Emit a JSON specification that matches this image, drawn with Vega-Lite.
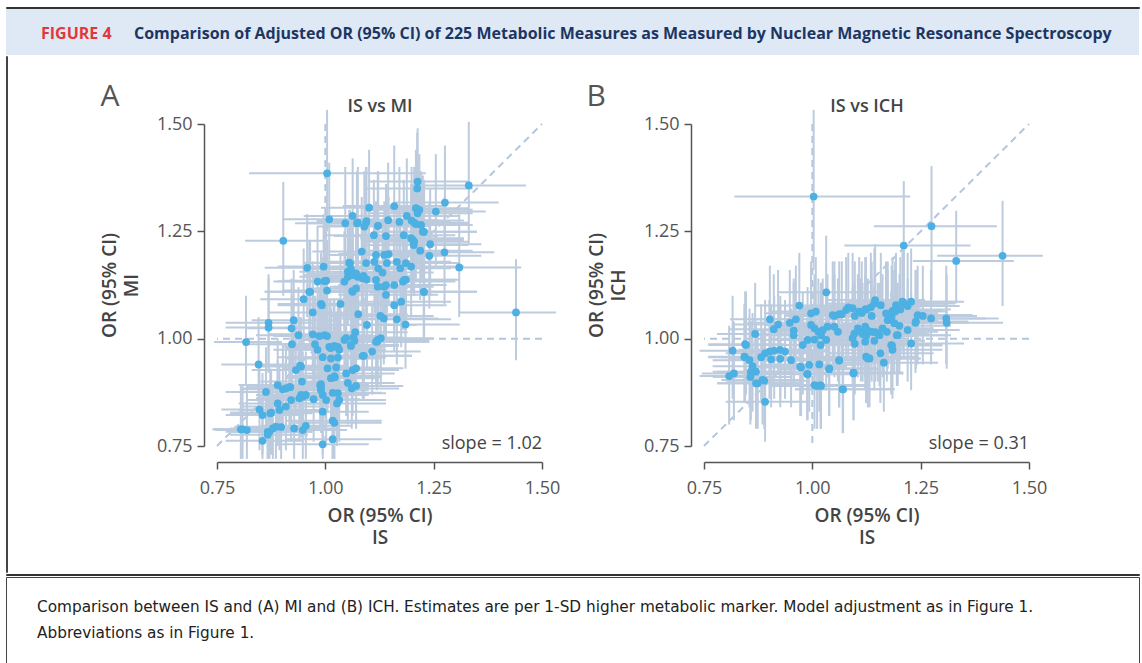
{
"$schema": "https://vega.github.io/schema/vega-lite/v6.json",
"padding": {"left": 5, "top": 6, "right": 0, "bottom": 0},
"background": "white",
"config": {
  "font": "Open Sans",
  "view": {"stroke": null},
  "axis": {"grid": false, "labelFlush": false, "domainColor": "#555", "tickColor": "#555", "domainWidth": 1.5, "tickWidth": 1.5, "tickSize": 7, "labelFontSize": 18, "labelColor": "#555", "titleFontSize": 19, "titleFontWeight": 600, "titleColor": "#444", "titleLineHeight": 22},
  "title": {"fontSize": 17, "fontWeight": 600, "color": "#444"}
},
"datasets": {
"a": [
{"x":1.004,"xl":0.824,"xh":1.232,"y":1.385,"yl":1.25,"yh":1.533},
{"x":1.331,"xl":1.2,"xh":1.463,"y":1.357,"yl":1.22,"yh":1.505},
{"x":1.276,"xl":1.16,"xh":1.4,"y":1.317,"yl":1.19,"yh":1.45},
{"x":1.255,"xl":1.15,"xh":1.37,"y":1.296,"yl":1.17,"yh":1.43},
{"x":1.213,"xl":1.1,"xh":1.33,"y":1.366,"yl":1.24,"yh":1.49},
{"x":1.212,"xl":1.09,"xh":1.34,"y":1.35,"yl":1.22,"yh":1.48},
{"x":1.159,"xl":1.04,"xh":1.28,"y":1.309,"yl":1.18,"yh":1.45},
{"x":1.101,"xl":0.99,"xh":1.22,"y":1.305,"yl":1.17,"yh":1.44},
{"x":1.063,"xl":0.95,"xh":1.18,"y":1.286,"yl":1.16,"yh":1.42},
{"x":1.009,"xl":0.9,"xh":1.12,"y":1.278,"yl":1.15,"yh":1.41},
{"x":1.046,"xl":0.93,"xh":1.17,"y":1.269,"yl":1.14,"yh":1.4},
{"x":1.073,"xl":0.96,"xh":1.19,"y":1.269,"yl":1.15,"yh":1.39},
{"x":1.094,"xl":0.98,"xh":1.21,"y":1.27,"yl":1.15,"yh":1.4},
{"x":1.121,"xl":1.01,"xh":1.24,"y":1.263,"yl":1.14,"yh":1.39},
{"x":1.145,"xl":1.03,"xh":1.26,"y":1.276,"yl":1.15,"yh":1.41},
{"x":1.171,"xl":1.06,"xh":1.29,"y":1.272,"yl":1.15,"yh":1.4},
{"x":1.188,"xl":1.07,"xh":1.31,"y":1.286,"yl":1.16,"yh":1.42},
{"x":1.205,"xl":1.09,"xh":1.33,"y":1.27,"yl":1.15,"yh":1.4},
{"x":1.221,"xl":1.11,"xh":1.34,"y":1.265,"yl":1.14,"yh":1.39},
{"x":1.217,"xl":1.1,"xh":1.34,"y":1.3,"yl":1.17,"yh":1.43},
{"x":1.228,"xl":1.12,"xh":1.35,"y":1.249,"yl":1.13,"yh":1.37},
{"x":0.903,"xl":0.815,"xh":1.0,"y":1.228,"yl":1.1,"yh":1.365},
{"x":1.112,"xl":1.0,"xh":1.23,"y":1.241,"yl":1.12,"yh":1.37},
{"x":1.14,"xl":1.02,"xh":1.26,"y":1.239,"yl":1.12,"yh":1.36},
{"x":1.181,"xl":1.07,"xh":1.3,"y":1.241,"yl":1.12,"yh":1.37},
{"x":1.202,"xl":1.09,"xh":1.32,"y":1.23,"yl":1.11,"yh":1.36},
{"x":1.204,"xl":1.09,"xh":1.33,"y":1.218,"yl":1.1,"yh":1.35},
{"x":1.242,"xl":1.13,"xh":1.36,"y":1.22,"yl":1.1,"yh":1.35},
{"x":1.275,"xl":1.16,"xh":1.39,"y":1.201,"yl":1.08,"yh":1.33},
{"x":1.24,"xl":1.13,"xh":1.36,"y":1.193,"yl":1.07,"yh":1.32},
{"x":1.219,"xl":1.1,"xh":1.34,"y":1.205,"yl":1.09,"yh":1.33},
{"x":1.309,"xl":1.19,"xh":1.452,"y":1.166,"yl":1.05,"yh":1.29},
{"x":1.084,"xl":0.97,"xh":1.2,"y":1.203,"yl":1.08,"yh":1.33},
{"x":1.117,"xl":1.0,"xh":1.24,"y":1.195,"yl":1.08,"yh":1.32},
{"x":1.136,"xl":1.02,"xh":1.26,"y":1.195,"yl":1.07,"yh":1.32},
{"x":1.146,"xl":1.03,"xh":1.27,"y":1.197,"yl":1.08,"yh":1.33},
{"x":1.055,"xl":0.95,"xh":1.17,"y":1.177,"yl":1.06,"yh":1.3},
{"x":1.094,"xl":0.98,"xh":1.21,"y":1.176,"yl":1.06,"yh":1.3},
{"x":1.113,"xl":1.0,"xh":1.23,"y":1.179,"yl":1.06,"yh":1.31},
{"x":1.122,"xl":1.01,"xh":1.24,"y":1.164,"yl":1.05,"yh":1.29},
{"x":1.132,"xl":1.02,"xh":1.25,"y":1.154,"yl":1.04,"yh":1.28},
{"x":1.142,"xl":1.03,"xh":1.26,"y":1.176,"yl":1.06,"yh":1.3},
{"x":1.165,"xl":1.05,"xh":1.29,"y":1.179,"yl":1.06,"yh":1.31},
{"x":1.173,"xl":1.06,"xh":1.29,"y":1.164,"yl":1.05,"yh":1.29},
{"x":1.186,"xl":1.07,"xh":1.31,"y":1.176,"yl":1.06,"yh":1.3},
{"x":1.198,"xl":1.08,"xh":1.32,"y":1.168,"yl":1.05,"yh":1.29},
{"x":0.958,"xl":0.86,"xh":1.06,"y":1.165,"yl":1.05,"yh":1.29},
{"x":0.996,"xl":0.89,"xh":1.11,"y":1.168,"yl":1.05,"yh":1.29},
{"x":1.052,"xl":0.94,"xh":1.17,"y":1.156,"yl":1.04,"yh":1.28},
{"x":1.071,"xl":0.96,"xh":1.19,"y":1.152,"yl":1.04,"yh":1.27},
{"x":1.086,"xl":0.97,"xh":1.2,"y":1.141,"yl":1.03,"yh":1.26},
{"x":1.052,"xl":0.94,"xh":1.17,"y":1.144,"yl":1.03,"yh":1.27},
{"x":0.982,"xl":0.88,"xh":1.09,"y":1.133,"yl":1.02,"yh":1.26},
{"x":1.002,"xl":0.9,"xh":1.11,"y":1.135,"yl":1.02,"yh":1.26},
{"x":1.044,"xl":0.94,"xh":1.16,"y":1.133,"yl":1.02,"yh":1.25},
{"x":1.117,"xl":1.0,"xh":1.24,"y":1.137,"yl":1.02,"yh":1.26},
{"x":1.121,"xl":1.01,"xh":1.24,"y":1.121,"yl":1.01,"yh":1.24},
{"x":1.14,"xl":1.03,"xh":1.26,"y":1.125,"yl":1.01,"yh":1.25},
{"x":1.14,"xl":1.03,"xh":1.26,"y":1.102,"yl":0.99,"yh":1.22},
{"x":1.159,"xl":1.05,"xh":1.28,"y":1.125,"yl":1.01,"yh":1.25},
{"x":1.179,"xl":1.07,"xh":1.3,"y":1.133,"yl":1.02,"yh":1.25},
{"x":1.186,"xl":1.07,"xh":1.31,"y":1.137,"yl":1.02,"yh":1.26},
{"x":0.963,"xl":0.86,"xh":1.07,"y":1.109,"yl":1.0,"yh":1.23},
{"x":1.004,"xl":0.9,"xh":1.11,"y":1.112,"yl":1.0,"yh":1.23},
{"x":1.062,"xl":0.95,"xh":1.18,"y":1.111,"yl":1.0,"yh":1.23},
{"x":1.227,"xl":1.11,"xh":1.35,"y":1.109,"yl":0.99,"yh":1.23},
{"x":0.95,"xl":0.85,"xh":1.05,"y":1.092,"yl":0.98,"yh":1.21},
{"x":0.992,"xl":0.89,"xh":1.1,"y":1.078,"yl":0.97,"yh":1.19},
{"x":1.035,"xl":0.93,"xh":1.15,"y":1.081,"yl":0.97,"yh":1.2},
{"x":1.159,"xl":1.05,"xh":1.28,"y":1.078,"yl":0.97,"yh":1.19},
{"x":1.175,"xl":1.06,"xh":1.29,"y":1.086,"yl":0.98,"yh":1.2},
{"x":0.971,"xl":0.87,"xh":1.08,"y":1.061,"yl":0.95,"yh":1.18},
{"x":1.076,"xl":0.97,"xh":1.19,"y":1.057,"yl":0.95,"yh":1.17},
{"x":1.127,"xl":1.01,"xh":1.25,"y":1.053,"yl":0.95,"yh":1.17},
{"x":1.135,"xl":1.02,"xh":1.26,"y":1.047,"yl":0.94,"yh":1.16},
{"x":1.165,"xl":1.05,"xh":1.29,"y":1.045,"yl":0.94,"yh":1.16},
{"x":1.44,"xl":1.308,"xh":1.532,"y":1.061,"yl":0.95,"yh":1.185},
{"x":0.869,"xl":0.77,"xh":0.97,"y":1.037,"yl":0.93,"yh":1.15},
{"x":0.869,"xl":0.77,"xh":0.97,"y":1.026,"yl":0.92,"yh":1.14},
{"x":0.927,"xl":0.83,"xh":1.03,"y":1.043,"yl":0.94,"yh":1.16},
{"x":0.922,"xl":0.82,"xh":1.03,"y":1.024,"yl":0.92,"yh":1.14},
{"x":1.096,"xl":0.99,"xh":1.21,"y":1.032,"yl":0.93,"yh":1.15},
{"x":1.185,"xl":1.07,"xh":1.31,"y":1.033,"yl":0.93,"yh":1.15},
{"x":0.986,"xl":0.88,"xh":1.1,"y":1.006,"yl":0.9,"yh":1.12},
{"x":0.998,"xl":0.89,"xh":1.11,"y":1.008,"yl":0.9,"yh":1.12},
{"x":1.004,"xl":0.9,"xh":1.12,"y":1.006,"yl":0.9,"yh":1.12},
{"x":0.938,"xl":0.84,"xh":1.04,"y":1.008,"yl":0.9,"yh":1.12},
{"x":1.069,"xl":0.96,"xh":1.19,"y":1.015,"yl":0.91,"yh":1.13},
{"x":1.065,"xl":0.96,"xh":1.18,"y":1.003,"yl":0.9,"yh":1.12},
{"x":1.044,"xl":0.94,"xh":1.16,"y":0.997,"yl":0.89,"yh":1.11},
{"x":0.817,"xl":0.743,"xh":0.9,"y":0.992,"yl":0.89,"yh":1.1},
{"x":0.923,"xl":0.82,"xh":1.03,"y":0.987,"yl":0.88,"yh":1.1},
{"x":0.976,"xl":0.87,"xh":1.09,"y":0.987,"yl":0.88,"yh":1.1},
{"x":0.982,"xl":0.88,"xh":1.09,"y":0.974,"yl":0.87,"yh":1.09},
{"x":1.009,"xl":0.9,"xh":1.12,"y":0.981,"yl":0.88,"yh":1.09},
{"x":1.019,"xl":0.91,"xh":1.13,"y":0.981,"yl":0.88,"yh":1.09},
{"x":1.029,"xl":0.92,"xh":1.14,"y":0.981,"yl":0.88,"yh":1.09},
{"x":1.059,"xl":0.95,"xh":1.17,"y":0.983,"yl":0.88,"yh":1.1},
{"x":1.121,"xl":1.01,"xh":1.24,"y":0.997,"yl":0.89,"yh":1.11},
{"x":1.128,"xl":1.02,"xh":1.25,"y":1.001,"yl":0.89,"yh":1.12},
{"x":1.108,"xl":1.0,"xh":1.22,"y":0.97,"yl":0.87,"yh":1.08},
{"x":1.089,"xl":0.98,"xh":1.2,"y":0.96,"yl":0.86,"yh":1.07},
{"x":0.846,"xl":0.76,"xh":0.94,"y":0.94,"yl":0.84,"yh":1.05},
{"x":0.994,"xl":0.89,"xh":1.1,"y":0.957,"yl":0.85,"yh":1.07},
{"x":1.013,"xl":0.91,"xh":1.12,"y":0.954,"yl":0.85,"yh":1.07},
{"x":1.029,"xl":0.92,"xh":1.14,"y":0.956,"yl":0.85,"yh":1.07},
{"x":0.942,"xl":0.84,"xh":1.05,"y":0.937,"yl":0.83,"yh":1.05},
{"x":0.932,"xl":0.83,"xh":1.04,"y":0.927,"yl":0.82,"yh":1.04},
{"x":1.005,"xl":0.9,"xh":1.11,"y":0.931,"yl":0.83,"yh":1.04},
{"x":1.025,"xl":0.92,"xh":1.13,"y":0.933,"yl":0.83,"yh":1.05},
{"x":1.048,"xl":0.94,"xh":1.16,"y":0.919,"yl":0.82,"yh":1.03},
{"x":1.063,"xl":0.96,"xh":1.17,"y":0.927,"yl":0.82,"yh":1.04},
{"x":1.071,"xl":0.96,"xh":1.18,"y":0.931,"yl":0.83,"yh":1.04},
{"x":0.971,"xl":0.87,"xh":1.08,"y":1.01,"yl":0.9,"yh":1.12},
{"x":1.012,"xl":0.91,"xh":1.12,"y":0.978,"yl":0.87,"yh":1.09},
{"x":1.032,"xl":0.93,"xh":1.14,"y":0.974,"yl":0.87,"yh":1.09},
{"x":1.067,"xl":0.96,"xh":1.18,"y":0.995,"yl":0.89,"yh":1.11},
{"x":1.052,"xl":0.95,"xh":1.16,"y":0.897,"yl":0.8,"yh":1.0},
{"x":1.061,"xl":0.95,"xh":1.17,"y":0.884,"yl":0.79,"yh":0.99},
{"x":1.071,"xl":0.96,"xh":1.18,"y":0.89,"yl":0.79,"yh":0.99},
{"x":0.988,"xl":0.88,"xh":1.1,"y":0.892,"yl":0.79,"yh":1.0},
{"x":0.99,"xl":0.89,"xh":1.1,"y":0.88,"yl":0.78,"yh":0.99},
{"x":1.013,"xl":0.91,"xh":1.12,"y":0.908,"yl":0.81,"yh":1.01},
{"x":1.022,"xl":0.92,"xh":1.13,"y":0.91,"yl":0.81,"yh":1.02},
{"x":0.946,"xl":0.85,"xh":1.05,"y":0.9,"yl":0.8,"yh":1.01},
{"x":0.909,"xl":0.81,"xh":1.01,"y":0.884,"yl":0.78,"yh":0.99},
{"x":0.919,"xl":0.82,"xh":1.02,"y":0.887,"yl":0.79,"yh":0.99},
{"x":0.902,"xl":0.81,"xh":1.0,"y":0.882,"yl":0.78,"yh":0.99},
{"x":0.89,"xl":0.8,"xh":0.99,"y":0.892,"yl":0.79,"yh":1.0},
{"x":0.863,"xl":0.77,"xh":0.96,"y":0.876,"yl":0.78,"yh":0.98},
{"x":0.921,"xl":0.82,"xh":1.02,"y":0.857,"yl":0.76,"yh":0.96},
{"x":0.89,"xl":0.8,"xh":0.99,"y":0.849,"yl":0.75,"yh":0.95},
{"x":0.909,"xl":0.81,"xh":1.01,"y":0.842,"yl":0.74,"yh":0.95},
{"x":0.894,"xl":0.8,"xh":0.99,"y":0.834,"yl":0.74,"yh":0.94},
{"x":0.94,"xl":0.84,"xh":1.04,"y":0.861,"yl":0.76,"yh":0.97},
{"x":0.948,"xl":0.85,"xh":1.05,"y":0.865,"yl":0.77,"yh":0.97},
{"x":0.955,"xl":0.86,"xh":1.06,"y":0.869,"yl":0.77,"yh":0.97},
{"x":0.973,"xl":0.87,"xh":1.08,"y":0.859,"yl":0.76,"yh":0.96},
{"x":0.994,"xl":0.89,"xh":1.1,"y":0.869,"yl":0.77,"yh":0.98},
{"x":1.002,"xl":0.9,"xh":1.11,"y":0.857,"yl":0.76,"yh":0.96},
{"x":0.994,"xl":0.89,"xh":1.1,"y":0.83,"yl":0.73,"yh":0.94},
{"x":1.017,"xl":0.91,"xh":1.13,"y":0.874,"yl":0.77,"yh":0.98},
{"x":1.029,"xl":0.92,"xh":1.14,"y":0.873,"yl":0.77,"yh":0.98},
{"x":1.032,"xl":0.93,"xh":1.14,"y":0.857,"yl":0.76,"yh":0.96},
{"x":1.027,"xl":0.92,"xh":1.14,"y":0.849,"yl":0.75,"yh":0.95},
{"x":0.848,"xl":0.76,"xh":0.94,"y":0.835,"yl":0.74,"yh":0.94},
{"x":0.855,"xl":0.77,"xh":0.95,"y":0.822,"yl":0.73,"yh":0.92},
{"x":0.873,"xl":0.78,"xh":0.97,"y":0.826,"yl":0.73,"yh":0.93},
{"x":0.809,"xl":0.74,"xh":0.89,"y":0.789,"yl":0.72,"yh":0.89},
{"x":0.819,"xl":0.745,"xh":0.9,"y":0.787,"yl":0.72,"yh":0.89},
{"x":0.867,"xl":0.77,"xh":0.97,"y":0.783,"yl":0.72,"yh":0.88},
{"x":0.879,"xl":0.78,"xh":0.98,"y":0.791,"yl":0.72,"yh":0.89},
{"x":0.886,"xl":0.79,"xh":0.99,"y":0.795,"yl":0.72,"yh":0.9},
{"x":0.898,"xl":0.8,"xh":1.0,"y":0.794,"yl":0.72,"yh":0.9},
{"x":0.928,"xl":0.83,"xh":1.03,"y":0.791,"yl":0.72,"yh":0.89},
{"x":0.948,"xl":0.85,"xh":1.05,"y":0.787,"yl":0.72,"yh":0.89},
{"x":0.955,"xl":0.85,"xh":1.06,"y":0.797,"yl":0.72,"yh":0.9},
{"x":0.855,"xl":0.77,"xh":0.95,"y":0.762,"yl":0.72,"yh":0.86},
{"x":0.994,"xl":0.89,"xh":1.1,"y":0.754,"yl":0.72,"yh":0.85},
{"x":1.017,"xl":0.91,"xh":1.13,"y":0.766,"yl":0.72,"yh":0.87},
{"x":1.021,"xl":0.92,"xh":1.13,"y":0.804,"yl":0.72,"yh":0.9},
{"x":1.017,"xl":0.91,"xh":1.13,"y":0.809,"yl":0.72,"yh":0.91},
{"x":0.867,"xl":0.78,"xh":0.96,"y":0.776,"yl":0.72,"yh":0.88},
{"x":0.805,"xl":0.74,"xh":0.88,"y":0.789,"yl":0.72,"yh":0.89},
{"x":1.075,"xl":0.96,"xh":1.19,"y":1.27,"yl":1.14,"yh":1.4},
{"x":1.09,"xl":0.98,"xh":1.21,"y":1.261,"yl":1.14,"yh":1.39},
{"x":1.095,"xl":0.98,"xh":1.22,"y":1.274,"yl":1.15,"yh":1.4},
{"x":1.122,"xl":1.01,"xh":1.24,"y":1.263,"yl":1.14,"yh":1.39},
{"x":1.057,"xl":0.95,"xh":1.17,"y":1.176,"yl":1.06,"yh":1.3},
{"x":1.059,"xl":0.95,"xh":1.17,"y":1.162,"yl":1.05,"yh":1.29},
{"x":1.063,"xl":0.95,"xh":1.18,"y":1.148,"yl":1.03,"yh":1.27},
{"x":1.075,"xl":0.97,"xh":1.19,"y":1.144,"yl":1.03,"yh":1.27},
{"x":1.088,"xl":0.98,"xh":1.2,"y":1.146,"yl":1.03,"yh":1.27},
{"x":1.095,"xl":0.98,"xh":1.21,"y":1.138,"yl":1.02,"yh":1.26},
{"x":1.071,"xl":0.96,"xh":1.19,"y":1.117,"yl":1.0,"yh":1.24},
{"x":1.209,"xl":1.09,"xh":1.33,"y":1.304,"yl":1.18,"yh":1.44},
{"x":1.213,"xl":1.1,"xh":1.34,"y":1.292,"yl":1.17,"yh":1.42},
{"x":1.199,"xl":1.08,"xh":1.32,"y":1.275,"yl":1.15,"yh":1.4},
{"x":1.209,"xl":1.09,"xh":1.33,"y":1.267,"yl":1.14,"yh":1.4},
{"x":1.225,"xl":1.11,"xh":1.35,"y":1.249,"yl":1.13,"yh":1.38},
{"x":1.198,"xl":1.08,"xh":1.32,"y":1.234,"yl":1.11,"yh":1.36},
{"x":1.205,"xl":1.09,"xh":1.33,"y":1.226,"yl":1.1,"yh":1.35},
{"x":1.182,"xl":1.07,"xh":1.3,"y":1.137,"yl":1.02,"yh":1.26},
{"x":1.136,"xl":1.02,"xh":1.25,"y":1.121,"yl":1.01,"yh":1.24},
{"x":1.228,"xl":1.11,"xh":1.35,"y":1.109,"yl":0.99,"yh":1.23},
{"x":0.965,"xl":0.86,"xh":1.07,"y":1.109,"yl":0.99,"yh":1.23},
{"x":1.063,"xl":0.95,"xh":1.18,"y":1.109,"yl":0.99,"yh":1.23},
{"x":0.99,"xl":0.89,"xh":1.1,"y":1.081,"yl":0.97,"yh":1.2},
{"x":0.998,"xl":0.89,"xh":1.11,"y":1.134,"yl":1.02,"yh":1.26},
{"x":1.119,"xl":1.01,"xh":1.24,"y":0.993,"yl":0.88,"yh":1.11},
{"x":1.048,"xl":0.94,"xh":1.16,"y":1.001,"yl":0.89,"yh":1.12},
{"x":1.059,"xl":0.95,"xh":1.17,"y":0.985,"yl":0.88,"yh":1.1},
{"x":1.021,"xl":0.92,"xh":1.13,"y":0.983,"yl":0.88,"yh":1.09},
{"x":1.086,"xl":0.98,"xh":1.2,"y":0.96,"yl":0.86,"yh":1.07},
{"x":1.117,"xl":1.0,"xh":1.24,"y":0.993,"yl":0.89,"yh":1.11},
{"x":0.944,"xl":0.84,"xh":1.05,"y":0.935,"yl":0.83,"yh":1.05},
{"x":0.99,"xl":0.89,"xh":1.1,"y":0.894,"yl":0.79,"yh":1.0},
{"x":0.99,"xl":0.89,"xh":1.1,"y":0.886,"yl":0.79,"yh":0.99},
{"x":1.021,"xl":0.92,"xh":1.13,"y":0.913,"yl":0.81,"yh":1.02},
{"x":0.917,"xl":0.82,"xh":1.02,"y":0.887,"yl":0.79,"yh":0.99},
{"x":0.944,"xl":0.84,"xh":1.05,"y":0.869,"yl":0.77,"yh":0.98},
{"x":0.875,"xl":0.78,"xh":0.97,"y":0.828,"yl":0.73,"yh":0.93},
{"x":0.871,"xl":0.78,"xh":0.97,"y":0.783,"yl":0.72,"yh":0.88}
],
"b": [
{"x":1.003,"xl":0.82,"xh":1.226,"y":1.331,"yl":1.16,"yh":1.533},
{"x":1.275,"xl":1.142,"xh":1.426,"y":1.262,"yl":1.09,"yh":1.402},
{"x":1.211,"xl":1.074,"xh":1.365,"y":1.217,"yl":1.09,"yh":1.367},
{"x":1.332,"xl":1.232,"xh":1.465,"y":1.181,"yl":1.082,"yh":1.298},
{"x":1.439,"xl":1.288,"xh":1.532,"y":1.193,"yl":1.076,"yh":1.321},
{"x":1.032,"xl":0.92,"xh":1.15,"y":1.108,"yl":0.99,"yh":1.24},
{"x":0.97,"xl":0.87,"xh":1.08,"y":1.077,"yl":0.96,"yh":1.2},
{"x":0.902,"xl":0.81,"xh":1.0,"y":1.045,"yl":0.93,"yh":1.17},
{"x":0.921,"xl":0.82,"xh":1.03,"y":1.033,"yl":0.92,"yh":1.16},
{"x":0.911,"xl":0.81,"xh":1.02,"y":1.022,"yl":0.91,"yh":1.15},
{"x":0.948,"xl":0.85,"xh":1.05,"y":1.037,"yl":0.92,"yh":1.16},
{"x":0.962,"xl":0.86,"xh":1.07,"y":1.045,"yl":0.93,"yh":1.17},
{"x":0.957,"xl":0.86,"xh":1.06,"y":1.019,"yl":0.9,"yh":1.14},
{"x":0.868,"xl":0.78,"xh":0.96,"y":1.011,"yl":0.9,"yh":1.13},
{"x":0.847,"xl":0.76,"xh":0.94,"y":0.985,"yl":0.87,"yh":1.11},
{"x":0.816,"xl":0.74,"xh":0.9,"y":0.972,"yl":0.86,"yh":1.1},
{"x":0.845,"xl":0.76,"xh":0.94,"y":0.957,"yl":0.85,"yh":1.08},
{"x":0.855,"xl":0.77,"xh":0.95,"y":0.95,"yl":0.84,"yh":1.07},
{"x":0.862,"xl":0.77,"xh":0.96,"y":0.936,"yl":0.83,"yh":1.06},
{"x":0.87,"xl":0.78,"xh":0.97,"y":0.923,"yl":0.81,"yh":1.04},
{"x":0.808,"xl":0.74,"xh":0.89,"y":0.913,"yl":0.8,"yh":1.03},
{"x":0.819,"xl":0.745,"xh":0.9,"y":0.919,"yl":0.81,"yh":1.04},
{"x":0.857,"xl":0.77,"xh":0.95,"y":0.911,"yl":0.8,"yh":1.03},
{"x":0.874,"xl":0.78,"xh":0.97,"y":0.896,"yl":0.79,"yh":1.01},
{"x":0.889,"xl":0.8,"xh":0.99,"y":0.902,"yl":0.79,"yh":1.02},
{"x":0.891,"xl":0.8,"xh":0.99,"y":0.853,"yl":0.76,"yh":0.96},
{"x":0.882,"xl":0.79,"xh":0.98,"y":0.957,"yl":0.85,"yh":1.08},
{"x":0.891,"xl":0.8,"xh":0.99,"y":0.966,"yl":0.85,"yh":1.09},
{"x":0.901,"xl":0.81,"xh":1.0,"y":0.97,"yl":0.86,"yh":1.09},
{"x":0.912,"xl":0.82,"xh":1.01,"y":0.972,"yl":0.86,"yh":1.1},
{"x":0.926,"xl":0.83,"xh":1.03,"y":0.974,"yl":0.86,"yh":1.1},
{"x":0.937,"xl":0.84,"xh":1.04,"y":0.97,"yl":0.86,"yh":1.09},
{"x":0.951,"xl":0.85,"xh":1.06,"y":0.95,"yl":0.84,"yh":1.07},
{"x":0.926,"xl":0.83,"xh":1.03,"y":0.953,"yl":0.84,"yh":1.08},
{"x":0.905,"xl":0.81,"xh":1.01,"y":0.952,"yl":0.84,"yh":1.08},
{"x":0.978,"xl":0.87,"xh":1.09,"y":0.985,"yl":0.87,"yh":1.11},
{"x":0.989,"xl":0.88,"xh":1.1,"y":0.997,"yl":0.88,"yh":1.12},
{"x":1.005,"xl":0.9,"xh":1.12,"y":0.998,"yl":0.88,"yh":1.13},
{"x":1.019,"xl":0.91,"xh":1.13,"y":0.985,"yl":0.87,"yh":1.11},
{"x":1.032,"xl":0.92,"xh":1.15,"y":0.997,"yl":0.88,"yh":1.12},
{"x":0.974,"xl":0.87,"xh":1.08,"y":0.933,"yl":0.82,"yh":1.06},
{"x":0.993,"xl":0.89,"xh":1.1,"y":0.939,"yl":0.83,"yh":1.06},
{"x":1.016,"xl":0.91,"xh":1.13,"y":0.94,"yl":0.83,"yh":1.06},
{"x":1.039,"xl":0.93,"xh":1.15,"y":0.929,"yl":0.82,"yh":1.05},
{"x":0.989,"xl":0.88,"xh":1.1,"y":0.917,"yl":0.81,"yh":1.04},
{"x":1.011,"xl":0.9,"xh":1.12,"y":0.89,"yl":0.79,"yh":1.01},
{"x":1.02,"xl":0.91,"xh":1.13,"y":0.89,"yl":0.79,"yh":1.01},
{"x":1.062,"xl":0.95,"xh":1.18,"y":0.949,"yl":0.84,"yh":1.07},
{"x":1.07,"xl":0.96,"xh":1.19,"y":0.882,"yl":0.78,"yh":1.0},
{"x":1.095,"xl":0.98,"xh":1.21,"y":0.919,"yl":0.81,"yh":1.04},
{"x":1.047,"xl":0.94,"xh":1.16,"y":1.055,"yl":0.94,"yh":1.18},
{"x":1.062,"xl":0.95,"xh":1.18,"y":1.057,"yl":0.94,"yh":1.18},
{"x":1.078,"xl":0.97,"xh":1.19,"y":1.067,"yl":0.95,"yh":1.19},
{"x":1.093,"xl":0.98,"xh":1.21,"y":1.071,"yl":0.95,"yh":1.2},
{"x":1.108,"xl":0.99,"xh":1.22,"y":1.063,"yl":0.95,"yh":1.19},
{"x":1.124,"xl":1.01,"xh":1.24,"y":1.068,"yl":0.95,"yh":1.19},
{"x":0.997,"xl":0.89,"xh":1.11,"y":1.059,"yl":0.94,"yh":1.18},
{"x":1.008,"xl":0.9,"xh":1.12,"y":1.063,"yl":0.95,"yh":1.19},
{"x":1.051,"xl":0.94,"xh":1.16,"y":1.028,"yl":0.91,"yh":1.15},
{"x":1.059,"xl":0.95,"xh":1.17,"y":1.016,"yl":0.9,"yh":1.14},
{"x":1.02,"xl":0.91,"xh":1.13,"y":1.008,"yl":0.89,"yh":1.13},
{"x":1.105,"xl":0.99,"xh":1.22,"y":1.024,"yl":0.91,"yh":1.15},
{"x":1.116,"xl":1.0,"xh":1.23,"y":1.011,"yl":0.9,"yh":1.13},
{"x":1.128,"xl":1.01,"xh":1.25,"y":1.019,"yl":0.9,"yh":1.14},
{"x":1.122,"xl":1.01,"xh":1.24,"y":0.993,"yl":0.88,"yh":1.11},
{"x":1.098,"xl":0.99,"xh":1.21,"y":0.988,"yl":0.87,"yh":1.11},
{"x":1.093,"xl":0.98,"xh":1.21,"y":1.001,"yl":0.89,"yh":1.12},
{"x":1.128,"xl":1.01,"xh":1.25,"y":0.954,"yl":0.84,"yh":1.07},
{"x":1.274,"xl":1.15,"xh":1.4,"y":1.047,"yl":0.94,"yh":1.16},
{"x":1.309,"xl":1.19,"xh":1.43,"y":1.047,"yl":0.94,"yh":1.17},
{"x":1.31,"xl":1.19,"xh":1.44,"y":1.037,"yl":0.93,"yh":1.15},
{"x":1.243,"xl":1.12,"xh":1.37,"y":1.055,"yl":0.94,"yh":1.17},
{"x":1.255,"xl":1.13,"xh":1.38,"y":1.053,"yl":0.94,"yh":1.17},
{"x":1.238,"xl":1.12,"xh":1.36,"y":1.037,"yl":0.92,"yh":1.16},
{"x":1.228,"xl":1.11,"xh":1.35,"y":0.989,"yl":0.88,"yh":1.11},
{"x":1.22,"xl":1.1,"xh":1.34,"y":1.02,"yl":0.9,"yh":1.14},
{"x":1.197,"xl":1.08,"xh":1.32,"y":1.008,"yl":0.89,"yh":1.13},
{"x":1.182,"xl":1.07,"xh":1.3,"y":0.985,"yl":0.87,"yh":1.11},
{"x":1.185,"xl":1.07,"xh":1.3,"y":0.974,"yl":0.86,"yh":1.1},
{"x":1.165,"xl":1.05,"xh":1.29,"y":0.944,"yl":0.83,"yh":1.06},
{"x":1.157,"xl":1.04,"xh":1.28,"y":0.966,"yl":0.85,"yh":1.09},
{"x":1.124,"xl":1.01,"xh":1.24,"y":0.958,"yl":0.85,"yh":1.08},
{"x":1.132,"xl":1.02,"xh":1.25,"y":0.954,"yl":0.84,"yh":1.08},
{"x":1.095,"xl":0.98,"xh":1.21,"y":0.921,"yl":0.81,"yh":1.04},
{"x":1.062,"xl":0.95,"xh":1.18,"y":0.95,"yl":0.84,"yh":1.07},
{"x":1.039,"xl":0.93,"xh":1.15,"y":0.931,"yl":0.82,"yh":1.05},
{"x":1.071,"xl":0.96,"xh":1.19,"y":0.882,"yl":0.78,"yh":1.0},
{"x":1.005,"xl":0.9,"xh":1.12,"y":0.892,"yl":0.79,"yh":1.01},
{"x":1.019,"xl":0.91,"xh":1.13,"y":0.892,"yl":0.79,"yh":1.01},
{"x":0.972,"xl":0.87,"xh":1.08,"y":0.935,"yl":0.82,"yh":1.06},
{"x":0.988,"xl":0.88,"xh":1.1,"y":0.918,"yl":0.81,"yh":1.04},
{"x":0.87,"xl":0.78,"xh":0.97,"y":0.896,"yl":0.79,"yh":1.01},
{"x":0.885,"xl":0.79,"xh":0.98,"y":0.904,"yl":0.8,"yh":1.02},
{"x":0.858,"xl":0.77,"xh":0.95,"y":0.923,"yl":0.81,"yh":1.04},
{"x":0.845,"xl":0.76,"xh":0.94,"y":0.987,"yl":0.87,"yh":1.11},
{"x":0.843,"xl":0.76,"xh":0.94,"y":0.958,"yl":0.85,"yh":1.08},
{"x":0.957,"xl":0.86,"xh":1.06,"y":1.008,"yl":0.89,"yh":1.13},
{"x":0.997,"xl":0.89,"xh":1.11,"y":1.032,"yl":0.91,"yh":1.16},
{"x":1.005,"xl":0.9,"xh":1.12,"y":1.024,"yl":0.91,"yh":1.15},
{"x":1.014,"xl":0.91,"xh":1.13,"y":1.016,"yl":0.9,"yh":1.14},
{"x":1.024,"xl":0.92,"xh":1.14,"y":1.02,"yl":0.9,"yh":1.14},
{"x":1.035,"xl":0.93,"xh":1.15,"y":1.028,"yl":0.91,"yh":1.15},
{"x":1.051,"xl":0.94,"xh":1.16,"y":1.053,"yl":0.94,"yh":1.18},
{"x":1.068,"xl":0.96,"xh":1.18,"y":1.057,"yl":0.94,"yh":1.18},
{"x":1.083,"xl":0.97,"xh":1.2,"y":1.073,"yl":0.96,"yh":1.2},
{"x":1.098,"xl":0.99,"xh":1.21,"y":1.053,"yl":0.94,"yh":1.18},
{"x":1.114,"xl":1.0,"xh":1.23,"y":1.06,"yl":0.94,"yh":1.18},
{"x":1.122,"xl":1.01,"xh":1.24,"y":1.068,"yl":0.95,"yh":1.19},
{"x":1.137,"xl":1.02,"xh":1.26,"y":1.053,"yl":0.94,"yh":1.18},
{"x":1.143,"xl":1.03,"xh":1.26,"y":1.082,"yl":0.96,"yh":1.21},
{"x":1.158,"xl":1.04,"xh":1.28,"y":1.078,"yl":0.96,"yh":1.2},
{"x":1.097,"xl":0.98,"xh":1.21,"y":1.012,"yl":0.9,"yh":1.13},
{"x":1.112,"xl":1.0,"xh":1.23,"y":1.016,"yl":0.9,"yh":1.14},
{"x":1.124,"xl":1.01,"xh":1.24,"y":1.006,"yl":0.89,"yh":1.13},
{"x":1.137,"xl":1.02,"xh":1.26,"y":1.016,"yl":0.9,"yh":1.14},
{"x":1.151,"xl":1.04,"xh":1.27,"y":1.012,"yl":0.9,"yh":1.13},
{"x":1.143,"xl":1.03,"xh":1.26,"y":0.995,"yl":0.88,"yh":1.12},
{"x":1.162,"xl":1.05,"xh":1.28,"y":1.024,"yl":0.91,"yh":1.15},
{"x":1.172,"xl":1.06,"xh":1.29,"y":1.016,"yl":0.9,"yh":1.14},
{"x":1.174,"xl":1.06,"xh":1.29,"y":1.057,"yl":0.94,"yh":1.18},
{"x":1.185,"xl":1.07,"xh":1.3,"y":1.065,"yl":0.95,"yh":1.19},
{"x":1.193,"xl":1.08,"xh":1.31,"y":1.078,"yl":0.96,"yh":1.2},
{"x":1.203,"xl":1.09,"xh":1.32,"y":1.068,"yl":0.95,"yh":1.19},
{"x":1.211,"xl":1.09,"xh":1.33,"y":1.082,"yl":0.96,"yh":1.21},
{"x":1.22,"xl":1.1,"xh":1.34,"y":1.076,"yl":0.96,"yh":1.2},
{"x":1.228,"xl":1.11,"xh":1.35,"y":1.086,"yl":0.97,"yh":1.21},
{"x":1.145,"xl":1.03,"xh":1.26,"y":1.09,"yl":0.97,"yh":1.22},
{"x":1.135,"xl":1.02,"xh":1.25,"y":1.073,"yl":0.95,"yh":1.2},
{"x":1.208,"xl":1.09,"xh":1.33,"y":1.086,"yl":0.97,"yh":1.21},
{"x":1.17,"xl":1.05,"xh":1.29,"y":1.059,"yl":0.94,"yh":1.18},
{"x":1.183,"xl":1.07,"xh":1.3,"y":1.051,"yl":0.94,"yh":1.17},
{"x":1.191,"xl":1.07,"xh":1.31,"y":1.063,"yl":0.95,"yh":1.18},
{"x":1.174,"xl":1.06,"xh":1.29,"y":1.043,"yl":0.93,"yh":1.16},
{"x":1.189,"xl":1.07,"xh":1.31,"y":1.036,"yl":0.92,"yh":1.16},
{"x":1.201,"xl":1.09,"xh":1.32,"y":1.03,"yl":0.92,"yh":1.15},
{"x":1.239,"xl":1.12,"xh":1.36,"y":1.04,"yl":0.93,"yh":1.16},
{"x":1.195,"xl":1.08,"xh":1.31,"y":1.008,"yl":0.89,"yh":1.13},
{"x":1.184,"xl":1.07,"xh":1.3,"y":0.984,"yl":0.87,"yh":1.11},
{"x":1.122,"xl":1.01,"xh":1.24,"y":1.028,"yl":0.91,"yh":1.15},
{"x":1.145,"xl":1.03,"xh":1.26,"y":1.015,"yl":0.9,"yh":1.14},
{"x":1.155,"xl":1.04,"xh":1.27,"y":1.008,"yl":0.89,"yh":1.13}
]
},
"spacing": 0,
"vconcat": [
  {"width": 1133, "height": 1, "data": {"values": []}, "mark": "rect", "view": {"stroke": "#333", "strokeWidth": 1}},
  {"spacing": 0, "hconcat": [
    {"width": 128, "height": 46, "data": {"values": []}, "mark": "rect", "view": {"fill": "#dfe9f5", "stroke": null},
     "title": {"text": "FIGURE 4", "anchor": "start", "frame": "group", "dx": 35, "offset": -33, "fontSize": 16, "fontWeight": "bold", "color": "#e2383c"}},
    {"width": 1005, "height": 46, "data": {"values": []}, "mark": "rect", "view": {"fill": "#dfe9f5", "stroke": null},
     "title": {"text": "Comparison of Adjusted OR (95% CI) of 225 Metabolic Measures as Measured by Nuclear Magnetic Resonance Spectroscopy", "anchor": "start", "frame": "group", "dx": 0, "offset": -33, "fontSize": 16, "fontWeight": "bold", "color": "#1c3664"}}
  ]},
  {"spacing": 92, "hconcat": [
    {"width": 1, "height": 516, "data": {"values": []}, "mark": "rect", "view": {"stroke": "#444", "strokeWidth": 1}},
    {"spacing": 94, "hconcat": [
      {"spacing": 0, "vconcat": [
        {"width": 1, "height": 26, "data": {"values": []}, "mark": "rect"},
        {"spacing": 26, "hconcat": [
          {"width": 325, "height": 322,
           "title": {"text": "A", "anchor": "start", "frame": "bounds", "dx": 0, "offset": -15, "fontSize": 30, "fontWeight": 500, "color": "#555"},
           "resolve": {"axis": {"x": "independent"}},
           "layer": [
            {"data": {"values": [{}]}, "mark": {"type": "rule", "color": "#b3c6dc", "strokeWidth": 2, "strokeDash": [7, 5]}, "encoding": {"x": {"datum": 1, "type": "quantitative", "axis": null}}},
            {"data": {"values": [{}]}, "mark": {"type": "rule", "color": "#b3c6dc", "strokeWidth": 2, "strokeDash": [7, 5]}, "encoding": {"y": {"datum": 1, "type": "quantitative"}}},
            {"data": {"values": [{}]}, "mark": {"type": "rule", "color": "#b3c6dc", "strokeWidth": 2, "strokeDash": [7, 5]},
             "encoding": {"x": {"datum": 0.75, "type": "quantitative", "axis": {"orient": "top", "title": "IS vs MI", "labels": false, "ticks": false, "domain": false, "titlePadding": 9, "titleFontSize": 18}}, "y": {"datum": 0.75, "type": "quantitative"}, "x2": {"datum": 1.5}, "y2": {"datum": 1.5}}},
            {"data": {"name": "a"}, "mark": {"type": "rule", "color": "#bccbde", "strokeWidth": 2}, "encoding": {"x": {"field": "xl", "type": "quantitative", "axis": null}, "x2": {"field": "xh"}, "y": {"field": "y", "type": "quantitative"}}},
            {"data": {"name": "a"}, "mark": {"type": "rule", "color": "#bccbde", "strokeWidth": 2}, "encoding": {"x": {"field": "x", "type": "quantitative", "axis": null}, "y": {"field": "yl", "type": "quantitative"}, "y2": {"field": "yh"}}},
            {"data": {"name": "a"}, "mark": {"type": "circle", "color": "#4cb0e3", "size": 60, "opacity": 1},
             "encoding": {
              "x": {"field": "x", "type": "quantitative", "scale": {"domain": [0.75, 1.5], "nice": false, "zero": false},
                    "axis": {"values": [0.75, 1, 1.25, 1.5], "format": ".2f", "offset": 16, "labelPadding": 10, "title": ["OR (95% CI)", "IS"], "titlePadding": 9}},
              "y": {"field": "y", "type": "quantitative", "scale": {"domain": [0.75, 1.5], "nice": false, "zero": false},
                    "axis": {"values": [0.75, 1, 1.25, 1.5], "format": ".2f", "offset": 13, "labelPadding": 5, "title": ["OR (95% CI)", "MI"], "titlePadding": 15}}}},
            {"data": {"values": [{}]}, "mark": {"type": "text", "align": "right", "baseline": "alphabetic", "fontSize": 18, "color": "#444", "dy": 3},
             "encoding": {"x": {"datum": 1.5, "type": "quantitative", "axis": null}, "y": {"datum": 0.75, "type": "quantitative"}, "text": {"value": "slope = 1.02"}}}
           ]},
          {"width": 325, "height": 322,
           "title": {"text": "B", "anchor": "start", "frame": "bounds", "dx": -1, "offset": -15, "fontSize": 30, "fontWeight": 500, "color": "#555"},
           "resolve": {"axis": {"x": "independent"}},
           "layer": [
            {"data": {"values": [{}]}, "mark": {"type": "rule", "color": "#b3c6dc", "strokeWidth": 2, "strokeDash": [7, 5]}, "encoding": {"x": {"datum": 1, "type": "quantitative", "axis": null}}},
            {"data": {"values": [{}]}, "mark": {"type": "rule", "color": "#b3c6dc", "strokeWidth": 2, "strokeDash": [7, 5]}, "encoding": {"y": {"datum": 1, "type": "quantitative"}}},
            {"data": {"values": [{}]}, "mark": {"type": "rule", "color": "#b3c6dc", "strokeWidth": 2, "strokeDash": [7, 5]},
             "encoding": {"x": {"datum": 0.75, "type": "quantitative", "axis": {"orient": "top", "title": "IS vs ICH", "labels": false, "ticks": false, "domain": false, "titlePadding": 9, "titleFontSize": 18}}, "y": {"datum": 0.75, "type": "quantitative"}, "x2": {"datum": 1.5}, "y2": {"datum": 1.5}}},
            {"data": {"name": "b"}, "mark": {"type": "rule", "color": "#bccbde", "strokeWidth": 2}, "encoding": {"x": {"field": "xl", "type": "quantitative", "axis": null}, "x2": {"field": "xh"}, "y": {"field": "y", "type": "quantitative"}}},
            {"data": {"name": "b"}, "mark": {"type": "rule", "color": "#bccbde", "strokeWidth": 2}, "encoding": {"x": {"field": "x", "type": "quantitative", "axis": null}, "y": {"field": "yl", "type": "quantitative"}, "y2": {"field": "yh"}}},
            {"data": {"name": "b"}, "mark": {"type": "circle", "color": "#4cb0e3", "size": 60, "opacity": 1},
             "encoding": {
              "x": {"field": "x", "type": "quantitative", "scale": {"domain": [0.75, 1.5], "nice": false, "zero": false},
                    "axis": {"values": [0.75, 1, 1.25, 1.5], "format": ".2f", "offset": 16, "labelPadding": 10, "title": ["OR (95% CI)", "IS"], "titlePadding": 9}},
              "y": {"field": "y", "type": "quantitative", "scale": {"domain": [0.75, 1.5], "nice": false, "zero": false},
                    "axis": {"values": [0.75, 1, 1.25, 1.5], "format": ".2f", "offset": 13, "labelPadding": 5, "title": ["OR (95% CI)", "ICH"], "titlePadding": 15}}}},
            {"data": {"values": [{}]}, "mark": {"type": "text", "align": "right", "baseline": "alphabetic", "fontSize": 18, "color": "#444", "dy": 3},
             "encoding": {"x": {"datum": 1.5, "type": "quantitative", "axis": null}, "y": {"datum": 0.75, "type": "quantitative"}, "text": {"value": "slope = 0.31"}}}
           ]}
        ]}
      ]},
      {"width": 1, "height": 516, "data": {"values": []}, "mark": "rect", "view": {"stroke": "#444", "strokeWidth": 1}}
    ]}
  ]},
  {"width": 1133, "height": 1, "data": {"values": []}, "mark": "rect", "view": {"stroke": "#333", "strokeWidth": 1}},
  {"width": 1133, "height": 88, "data": {"values": []}, "mark": "rect", "view": {"stroke": "#444", "strokeWidth": 1},
   "title": {"text": ["Comparison between IS and (A) MI and (B) ICH. Estimates are per 1-SD higher metabolic marker. Model adjustment as in Figure 1.", "Abbreviations as in Figure 1."], "anchor": "start", "frame": "group", "dx": 31, "offset": -64, "font": "DejaVu Sans", "fontSize": 15.3, "fontWeight": "normal", "color": "#222", "lineHeight": 26}}
]
}
